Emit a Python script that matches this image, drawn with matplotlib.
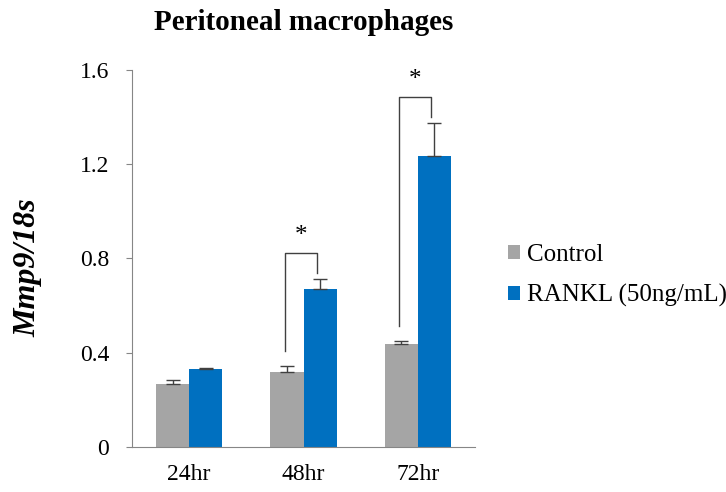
import numpy as np
from matplotlib import pyplot as plt

plt.rcParams['font.family'] = ['Liberation Serif', 'DejaVu Serif']

groups = ['24hr', '48hr', '72hr']
control = [0.267, 0.318, 0.437]
control_err = [0.017, 0.026, 0.013]
rankl = [0.331, 0.670, 1.235]
rankl_err = [0.004, 0.043, 0.140]
sig_groups = [1, 2]   # groups marked with *

fig = plt.figure(figsize=(7.26, 4.92), dpi=100)
ax = fig.add_axes([0.1818, 0.0915, 0.4725, 0.7662])

x = np.arange(len(groups))
w = 0.29
ax.bar(x - w / 2, control, w, color='#A5A5A5', label='Control',
       yerr=[np.zeros(3), control_err], capsize=5,
       error_kw=dict(ecolor='#404040', elinewidth=1, capthick=1))
ax.bar(x + w / 2, rankl, w, color='#0070C0', label='RANKL (50ng/mL)',
       yerr=[np.zeros(3), rankl_err], capsize=5,
       error_kw=dict(ecolor='#404040', elinewidth=1, capthick=1))

# significance brackets
for i in sig_groups:
    left_top = control[i] + control_err[i]
    right_top = rankl[i] + rankl_err[i]
    top = right_top + 0.11
    xl = x[i] - w / 2 - 0.02
    xr = x[i] + w / 2 - 0.03
    ax.plot([xl, xl, xr, xr], [left_top + 0.065, top, top, right_top + 0.025],
            color='#404040', lw=1)
    ax.text((xl + xr) / 2, top + 0.025, '*', ha='center', va='bottom', fontsize=18)

ax.set_xlim(-0.5, 2.5)
ax.set_ylim(0, 1.6)
ax.set_yticks([0, 0.4, 0.8, 1.2, 1.6])
ax.set_yticklabels(['0', '0.4', '0.8', '1.2', '1.6'])
ax.set_xticks(x)
ax.set_xticklabels(groups)
ax.tick_params(axis='y', length=4.5, color='#868686', labelsize=17, pad=12)
ax.tick_params(axis='x', length=0, labelsize=17, pad=12)
for s in ['top', 'right']:
    ax.spines[s].set_visible(False)
for s in ['left', 'bottom']:
    ax.spines[s].set_color('#868686')

ax.set_ylabel('Mmp9/18s', fontsize=23, fontweight='bold', style='italic')
ax.yaxis.set_label_coords(-0.26, 0.475)
fig.text(0.418, 0.955, 'Peritoneal macrophages', ha='center', va='center',
         fontsize=21, fontweight='bold')

ax.legend(loc='center left', bbox_to_anchor=(1.03, 0.455), frameon=False,
          fontsize=18, handlelength=0.5, handleheight=0.5, handletextpad=0.25,
          labelspacing=0.75)

plt.savefig('out.png', dpi=100)
